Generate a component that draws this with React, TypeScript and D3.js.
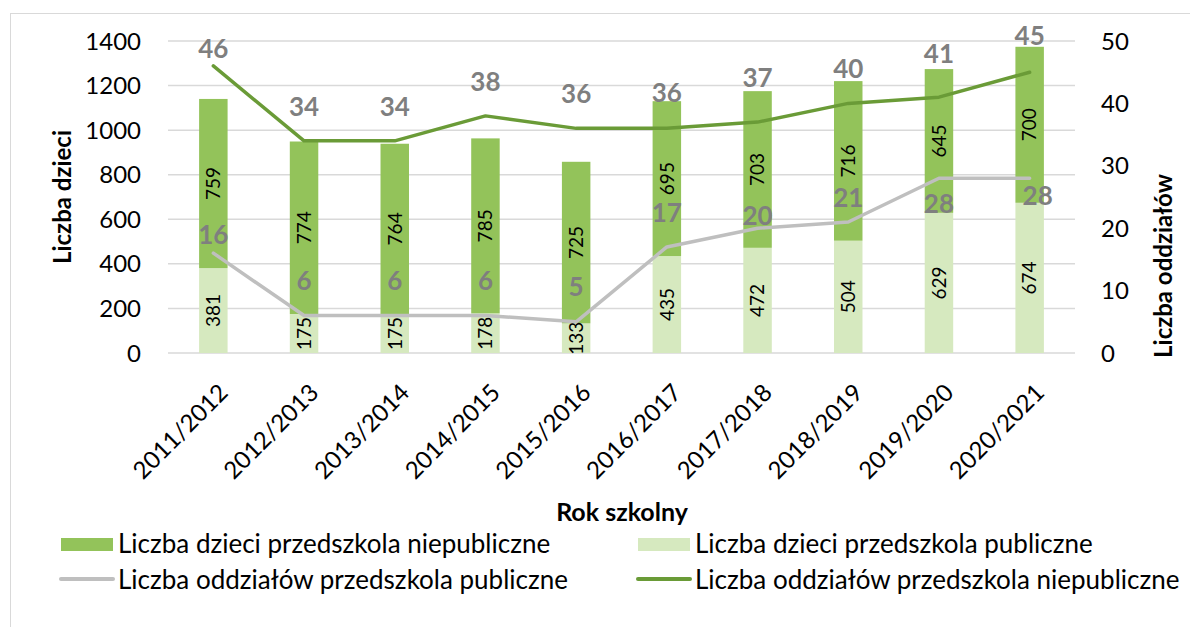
import React from "react";
import * as d3 from "d3";

// School years (x categories)
const years = [
  "2011/2012",
  "2012/2013",
  "2013/2014",
  "2014/2015",
  "2015/2016",
  "2016/2017",
  "2017/2018",
  "2018/2019",
  "2019/2020",
  "2020/2021",
];

// Number of children (left axis, stacked bars)
const childrenPublic = [381, 175, 175, 178, 133, 435, 472, 504, 629, 674];
const childrenNonPublic = [759, 774, 764, 785, 725, 695, 703, 716, 645, 700];

// Number of classes (right axis, lines)
const classesPublic = [16, 6, 6, 6, 5, 17, 20, 21, 28, 28];
const classesNonPublic = [46, 34, 34, 38, 36, 36, 37, 40, 41, 45];

// Axis ticks
const leftTicks = [0, 200, 400, 600, 800, 1000, 1200, 1400];
const rightTicks = [0, 10, 20, 30, 40, 50];

// Label offsets for line labels (Excel placed them by hand-ish)
const publicLabelDy = [-19, -35, -35, -35, -35, -34, -13, -24, 25, 17];
const publicLabelDx = [0, 0, 0, 0, 0, 0, 0, 0, 0, 8];
const nonPublicLabelDy = [-17, -34, -34, -34, -35, -36, -44, -35, -44, -37];

const COLORS = {
  nonPublicBar: "#93C35A",
  publicBar: "#D6E9BF",
  nonPublicLine: "#6A9B37",
  publicLine: "#BFBFBF",
  label: "#7F7F7F",
  grid: "#D9D9D9",
};

const FONT = "Lato, 'Open Sans', sans-serif";

const margin = { top: 41, right: 1075, bottom: 353, left: 168 };

export default function App() {
  const x = d3
    .scaleBand<string>()
    .domain(years)
    .range([margin.left, margin.right])
    .paddingInner(0.686)
    .paddingOuter(0.343);

  const yLeft = d3.scaleLinear().domain([0, 1400]).range([margin.bottom, margin.top]);
  const yRight = d3.scaleLinear().domain([0, 50]).range([margin.bottom, margin.top]);

  const cx = (y: string) => (x(y) as number) + x.bandwidth() / 2;

  const line = d3
    .line<number>()
    .x((_, i) => cx(years[i]))
    .y((d) => yRight(d));

  const legend = [
    { label: "Liczba dzieci przedszkola niepubliczne", kind: "rect", color: COLORS.nonPublicBar },
    { label: "Liczba dzieci przedszkola publiczne", kind: "rect", color: COLORS.publicBar },
    { label: "Liczba oddziałów przedszkola publiczne", kind: "line", color: COLORS.publicLine },
    { label: "Liczba oddziałów przedszkola niepubliczne", kind: "line", color: COLORS.nonPublicLine },
  ];

  return (
    <svg
      width={1190}
      height={627}
      style={{ position: "absolute", left: 0, top: 0, background: "#fff" }}
      fontFamily={FONT}
    >
      {/* chart border */}
      <rect x={10.5} y={13.5} width={1300} height={800} fill="none" stroke={COLORS.grid} />

      {/* gridlines */}
      {leftTicks.map((t) => (
        <line
          key={t}
          x1={margin.left}
          x2={margin.right}
          y1={yLeft(t)}
          y2={yLeft(t)}
          stroke={COLORS.grid}
          strokeWidth={1.5}
        />
      ))}

      {/* left axis labels */}
      {leftTicks.map((t) => (
        <text key={t} x={141} y={yLeft(t)} dy="0.36em" textAnchor="end" fontSize={24} fill="#000">
          {t}
        </text>
      ))}

      {/* right axis labels */}
      {rightTicks.map((t) => (
        <text key={t} x={1101} y={yRight(t)} dy="0.36em" textAnchor="start" fontSize={24} fill="#000">
          {t}
        </text>
      ))}

      {/* stacked bars */}
      {years.map((yr, i) => {
        const pub = childrenPublic[i];
        const nonPub = childrenNonPublic[i];
        const bx = x(yr) as number;
        const bw = x.bandwidth();
        const c = cx(yr);
        const pubMid = yLeft(pub / 2);
        const nonMid = yLeft(pub + nonPub / 2);
        return (
          <g key={yr}>
            <rect x={bx} y={yLeft(pub)} width={bw} height={yLeft(0) - yLeft(pub)} fill={COLORS.publicBar} />
            <rect
              x={bx}
              y={yLeft(pub + nonPub)}
              width={bw}
              height={yLeft(pub) - yLeft(pub + nonPub)}
              fill={COLORS.nonPublicBar}
            />
            <text
              transform={`translate(${c},${pubMid}) rotate(-90)`}
              textAnchor="middle"
              dy="0.36em"
              fontSize={19}
              fill="#000"
            >
              {pub}
            </text>
            <text
              transform={`translate(${c},${nonMid}) rotate(-90)`}
              textAnchor="middle"
              dy="0.36em"
              fontSize={19}
              fill="#000"
            >
              {nonPub}
            </text>
          </g>
        );
      })}

      {/* lines */}
      <path
        d={line(classesPublic) || ""}
        fill="none"
        stroke={COLORS.publicLine}
        strokeWidth={3.5}
        strokeLinejoin="round"
        strokeLinecap="round"
      />
      <path
        d={line(classesNonPublic) || ""}
        fill="none"
        stroke={COLORS.nonPublicLine}
        strokeWidth={3.5}
        strokeLinejoin="round"
        strokeLinecap="round"
      />

      {/* line labels */}
      {classesPublic.map((v, i) => (
        <text
          key={"p" + i}
          x={cx(years[i]) + publicLabelDx[i]}
          y={yRight(v) + publicLabelDy[i]}
          dy="0.36em"
          textAnchor="middle"
          fontSize={26}
          fontWeight="bold"
          fill={COLORS.label}
        >
          {v}
        </text>
      ))}
      {classesNonPublic.map((v, i) => (
        <text
          key={"n" + i}
          x={cx(years[i])}
          y={yRight(v) + nonPublicLabelDy[i]}
          dy="0.36em"
          textAnchor="middle"
          fontSize={26}
          fontWeight="bold"
          fill={COLORS.label}
        >
          {v}
        </text>
      ))}

      {/* x axis labels */}
      {years.map((yr) => (
        <text
          key={yr}
          transform={`translate(${cx(yr) + 10},${388}) rotate(-45)`}
          textAnchor="end"
          dy="0.36em"
          fontSize={24}
          fill="#000"
        >
          {yr}
        </text>
      ))}

      {/* axis titles */}
      <text
        transform={`translate(62,${(margin.top + margin.bottom) / 2}) rotate(-90)`}
        textAnchor="middle"
        dy="0.36em"
        fontSize={24}
        fontWeight="bold"
      >
        Liczba dzieci
      </text>
      <text
        transform={`translate(1163,266) rotate(-90)`}
        textAnchor="middle"
        dy="0.36em"
        fontSize={24}
        fontWeight="bold"
      >
        Liczba oddziałów
      </text>
      <text x={622} y={512} dy="0.36em" textAnchor="middle" fontSize={25} fontWeight="bold">
        Rok szkolny
      </text>

      {/* legend */}
      {legend.map((item, i) => {
        const lx = i % 2 === 0 ? 61 : 638;
        const ly = i < 2 ? 544 : 580;
        return (
          <g key={item.label}>
            {item.kind === "rect" ? (
              <rect x={lx} y={ly - 6} width={52} height={13} fill={item.color} />
            ) : (
              <line x1={lx} x2={lx + 52} y1={ly - 1} y2={ly - 1} stroke={item.color} strokeWidth={4} strokeLinecap="round" />
            )}
            <text x={lx + 57} y={ly} dy="0.36em" fontSize={26} fill="#000">
              {item.label}
            </text>
          </g>
        );
      })}
    </svg>
  );
}
